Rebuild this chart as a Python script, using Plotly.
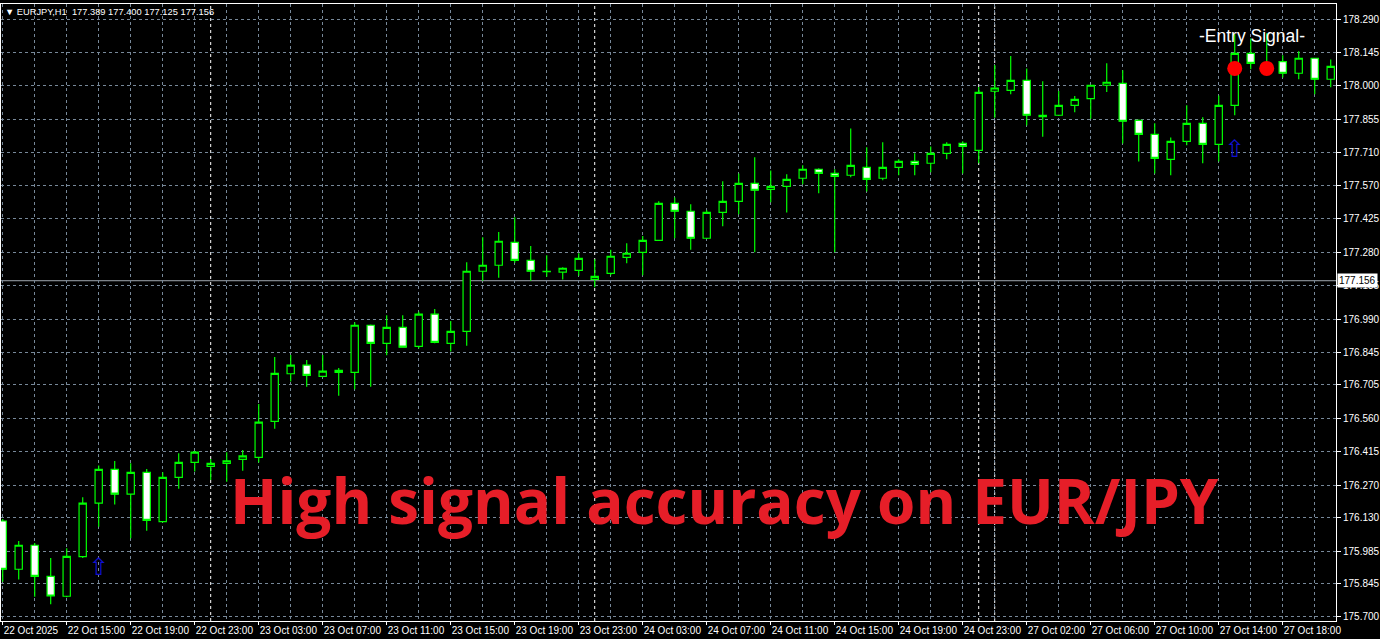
import plotly.graph_objects as go

# ---------------- data ----------------
bars = list(range(84))  # hourly bars, bar 0 = 22 Oct 11:00
opens = [176.115, 175.906, 176.010, 175.875, 175.789, 175.961, 176.192, 176.339, 176.231, 176.326,
         176.112, 176.304, 176.369, 176.352, 176.365, 176.382, 176.391, 176.547, 176.753, 176.790,
         176.742, 176.768, 176.759, 176.963, 176.885, 176.954, 176.872, 177.011, 176.885, 176.937,
         177.197, 177.223, 177.322, 177.244, 177.195, 177.193, 177.201, 177.162, 177.188, 177.257,
         177.279, 177.331, 177.491, 177.457, 177.340, 177.452, 177.500, 177.578, 177.552, 177.565,
         177.600, 177.639, 177.621, 177.613, 177.647, 177.600, 177.647, 177.673, 177.665, 177.708,
         177.751, 177.721, 177.977, 177.981, 178.024, 177.867, 177.873, 177.916, 177.945, 178.003,
         178.011, 177.851, 177.790, 177.682, 177.760, 177.838, 177.747, 177.916, 178.141, 178.076,
         178.105, 178.055, 178.120, 178.029]
highs = [176.124, 176.028, 176.020, 175.955, 175.997, 176.218, 176.355, 176.375, 176.365, 176.340,
         176.326, 176.408, 176.418, 176.384, 176.413, 176.423, 176.622, 176.826, 176.834, 176.813,
         176.834, 176.778, 176.976, 176.966, 177.006, 177.006, 177.022, 177.034, 176.982, 177.236,
         177.344, 177.367, 177.431, 177.306, 177.266, 177.214, 177.275, 177.249, 177.290, 177.318,
         177.350, 177.500, 177.517, 177.487, 177.461, 177.587, 177.621, 177.691, 177.634, 177.617,
         177.656, 177.643, 177.639, 177.816, 177.734, 177.756, 177.682, 177.708, 177.738, 177.756,
         177.760, 177.995, 178.091, 178.130, 178.076, 178.020, 177.978, 177.956, 178.005, 178.098,
         178.068, 177.855, 177.838, 177.777, 177.916, 177.864, 177.959, 178.224, 178.206, 178.228,
         178.133, 178.150, 178.122, 178.115]
lows = [175.852, 175.862, 175.787, 175.754, 175.785, 175.955, 176.090, 176.187, 176.040, 176.073,
        176.108, 176.255, 176.329, 176.293, 176.285, 176.333, 176.368, 176.515, 176.719, 176.697,
        176.738, 176.658, 176.686, 176.697, 176.833, 176.866, 176.862, 176.885, 176.849, 176.874,
        177.156, 177.169, 177.234, 177.156, 177.173, 177.161, 177.178, 177.128, 177.180, 177.232,
        177.180, 177.328, 177.340, 177.290, 177.337, 177.392, 177.444, 177.279, 177.496, 177.452,
        177.574, 177.535, 177.279, 177.604, 177.543, 177.591, 177.613, 177.613, 177.626, 177.682,
        177.621, 177.665, 177.862, 177.964, 177.829, 177.780, 177.870, 177.886, 177.858, 177.974,
        177.751, 177.673, 177.621, 177.613, 177.743, 177.665, 177.673, 177.873, 178.072, 178.056,
        178.037, 178.029, 177.964, 177.994]
closes = [175.906, 176.010, 175.875, 175.790, 175.962, 176.192, 176.339, 176.231, 176.326, 176.118,
          176.304, 176.369, 176.413, 176.365, 176.376, 176.397, 176.543, 176.755, 176.790, 176.746,
          176.764, 176.759, 176.963, 176.885, 176.954, 176.868, 177.011, 176.889, 176.937, 177.197,
          177.223, 177.327, 177.244, 177.197, 177.197, 177.210, 177.253, 177.175, 177.262, 177.275,
          177.331, 177.491, 177.457, 177.340, 177.452, 177.500, 177.578, 177.548, 177.565, 177.595,
          177.639, 177.621, 177.608, 177.656, 177.595, 177.647, 177.673, 177.660, 177.708, 177.747,
          177.738, 177.972, 177.991, 178.024, 177.873, 177.873, 177.916, 177.942, 178.003, 178.016,
          177.847, 177.790, 177.686, 177.760, 177.838, 177.747, 177.916, 178.141, 178.098, 178.098,
          178.055, 178.120, 178.029, 178.085]

time_tick_bars = [0, 4, 8, 12, 16, 20, 24, 28, 32, 36, 40, 44, 48, 52, 56, 60, 64, 68, 72, 76, 80]
time_tick_labels = ["22 Oct 2025", "22 Oct 15:00", "22 Oct 19:00", "22 Oct 23:00", "23 Oct 03:00",
                    "23 Oct 07:00", "23 Oct 11:00", "23 Oct 15:00", "23 Oct 19:00", "23 Oct 23:00",
                    "24 Oct 03:00", "24 Oct 07:00", "24 Oct 11:00", "24 Oct 15:00", "24 Oct 19:00",
                    "24 Oct 23:00", "27 Oct 02:00", "27 Oct 06:00", "27 Oct 10:00", "27 Oct 14:00",
                    "27 Oct 18:00"]
price_tick_labels = ["178.290", "178.145", "178.000", "177.855", "177.710", "177.570", "177.425",
                     "177.280", "177.135", "176.990", "176.845", "176.705", "176.560", "176.415",
                     "176.270", "176.130", "175.985", "175.845", "175.700"]
day_separator_bars = [13, 37, 61, 62]

signal_dot_bars = [77, 79]
signal_dot_prices = [178.076, 178.076]
arrow_bars = [6, 77]
arrow_prices = [175.907, 177.717]

last_price = 177.156
header_text = "\u25BC EURJPY,H1  177.389 177.400 177.125 177.156"
entry_text = "-Entry Signal-"
banner_text = "High signal accuracy on EUR/JPY"

# ---------------- styles ----------------
GREEN = "#00ff00"
GRID = "#778899"
AXFONT = dict(family="Liberation Sans, Arial, sans-serif", size=10, color="#ffffff")

fig = go.Figure()
fig.add_trace(go.Candlestick(
    x=bars, open=opens, high=highs, low=lows, close=closes,
    increasing=dict(line=dict(color=GREEN, width=1.2), fillcolor="#000000"),
    decreasing=dict(line=dict(color=GREEN, width=1.2), fillcolor="#ffffff"),
    whiskerwidth=0, hoverinfo="skip", showlegend=False,
))
fig.add_trace(go.Scatter(
    x=signal_dot_bars, y=signal_dot_prices, mode="markers",
    marker=dict(color="#ff0000", size=15, line=dict(width=0)),
    hoverinfo="skip", showlegend=False,
))
fig.add_trace(go.Scatter(
    x=arrow_bars, y=arrow_prices, mode="text", text=["\u21E7"] * len(arrow_bars),
    textfont=dict(family="DejaVu Sans", size=24, color="#1010d0"),
    textposition="middle center", hoverinfo="skip", showlegend=False,
))

shapes = []
for b in day_separator_bars:
    shapes.append(dict(type="line", xref="x", yref="y domain", x0=b, x1=b, y0=0, y1=1,
                       line=dict(color="#ffffff", width=1, dash="3px,3px"), layer="below"))
shapes.append(dict(type="line", xref="x domain", yref="y", x0=0, x1=1, y0=last_price, y1=last_price,
                   line=dict(color="#a0a8b0", width=1), layer="below"))

annotations = [
    dict(xref="paper", yref="paper", x=0, y=1, xanchor="left", yanchor="top", xshift=2, yshift=-1,
         text=header_text, showarrow=False,
         font=dict(family="Liberation Sans, Arial, sans-serif", size=9.3, color="#ffffff")),
    dict(xref="x", yref="y", x=78.08, y=178.216, text=entry_text, showarrow=False,
         font=dict(family="Liberation Sans, Arial, sans-serif", size=17.5, color="#ffffff")),
    dict(xref="paper", yref="y", x=0.5423, y=176.206, text="<b>" + banner_text + "</b>", showarrow=False,
         font=dict(family="Open Sans, sans-serif", size=62, color="#e61e28")),
    dict(xref="paper", yref="y", x=1, y=last_price, xanchor="left", xshift=1,
         text=f"{last_price:.3f}", showarrow=False, bgcolor="#ffffff", borderpad=1,
         font=dict(family="Liberation Sans, Arial, sans-serif", size=10, color="#000000")),
]

fig.update_layout(
    width=1380, height=639,
    margin=dict(l=1, r=44, t=4, b=18, autoexpand=False),
    paper_bgcolor="#000000", plot_bgcolor="#000000",
    showlegend=False, shapes=shapes, annotations=annotations,
    boxgap=0.35,
    xaxis=dict(
        range=[-0.106, 83.33], rangeslider=dict(visible=False), automargin=False,
        tickmode="array", tickvals=time_tick_bars, ticktext=time_tick_labels,
        ticks="outside", ticklen=3, tickcolor="#ffffff", tickfont=AXFONT, tickangle=0,
        ticklabelposition="outside right",
        showgrid=True, gridcolor=GRID, gridwidth=1, griddash="3px,3px",
        minor=dict(tickmode="linear", tick0=0, dtick=2, showgrid=True, gridcolor=GRID,
                   gridwidth=1, griddash="3px,3px", ticks=""),
        showline=True, linecolor="#ffffff", linewidth=1, mirror=True, zeroline=False,
        fixedrange=True,
    ),
    yaxis=dict(
        range=[175.6817, 178.355], side="right", automargin=False,
        tickmode="array", tickvals=[float(t) for t in price_tick_labels], ticktext=price_tick_labels,
        ticks="outside", ticklen=4, tickcolor="#ffffff", tickfont=AXFONT,
        showgrid=True, gridcolor=GRID, gridwidth=1, griddash="3px,3px",
        showline=True, linecolor="#ffffff", linewidth=1, mirror=True, zeroline=False,
        fixedrange=True,
    ),
)

fig.write_html("out.html", config={"displayModeBar": False},
               post_script="document.body.style.margin='0';document.body.style.background='#000';")
